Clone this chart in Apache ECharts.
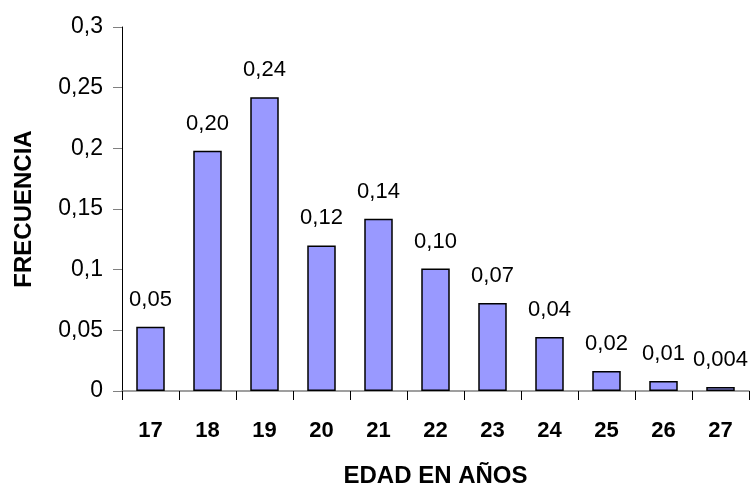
<!DOCTYPE html>
<html><head><meta charset="utf-8">
<script src="https://cdn.jsdelivr.net/npm/echarts@6/dist/echarts.min.js"></script>
<style>html,body{margin:0;padding:0;background:#fff}#c{width:750px;height:484px}</style>
</head><body><div id="c"></div>
<script>
var categories = ['17','18','19','20','21','22','23','24','25','26','27'];
var values = [0.053, 0.198, 0.242, 0.120, 0.142, 0.101, 0.0725, 0.0445, 0.0165, 0.0082, 0.0033];
var valueLabels = ['0,05','0,20','0,24','0,12','0,14','0,10','0,07','0,04','0,02','0,01','0,004'];
var yTicks = [0, 0.05, 0.1, 0.15, 0.2, 0.25, 0.3];

var chart = echarts.init(document.getElementById('c'), null, {renderer:'canvas'});
var font = '"Liberation Sans", Arial, sans-serif';
chart.setOption({
  animation:false,
  backgroundColor:'#fff',
  grid:{left:122, top:27, right:1, bottom:93, containLabel:false, outerBoundsMode:'none'},
  xAxis:{
    type:'category', data:categories,
    name:'EDAD EN AÑOS', nameLocation:'middle', nameGap:73,
    nameTextStyle:{fontFamily:font, fontWeight:'bold', fontSize:24, color:'#000'},
    axisLine:{lineStyle:{color:'#808080', width:1.5}},
    axisTick:{show:true, length:9, lineStyle:{color:'#000', width:1}},
    axisLabel:{fontFamily:font, fontWeight:'bold', fontSize:22, color:'#000', margin:29}
  },
  yAxis:{
    type:'value', min:0, max:0.3, interval:0.05,
    name:'FRECUENCIA', nameLocation:'middle', nameGap:86,
    nameTextStyle:{fontFamily:font, fontWeight:'bold', fontSize:24, color:'#000'},
    splitLine:{show:false},
    axisLine:{show:true, lineStyle:{color:'#000', width:1}},
    axisTick:{show:true, length:9, lineStyle:{color:'#808080', width:1}},
    axisLabel:{fontFamily:font, fontSize:23, color:'#000', margin:19,
      formatter:function(v){ var i = yTicks.findIndex(function(t){return Math.abs(t-v)<1e-9;}); return i>=0 ? String(+yTicks[i].toFixed(2)).replace('.',',') : ''; }}
  },
  series:[{
    type:'bar', data:values, barWidth:'50%',
    itemStyle:{color:'#9999FF', borderColor:'#000', borderWidth:1.5},
    label:{show:true, position:'top', distance:16, fontFamily:font, fontSize:22, color:'#000',
      formatter:function(p){ return valueLabels[p.dataIndex]; }}
  }]
});
</script></body></html>
